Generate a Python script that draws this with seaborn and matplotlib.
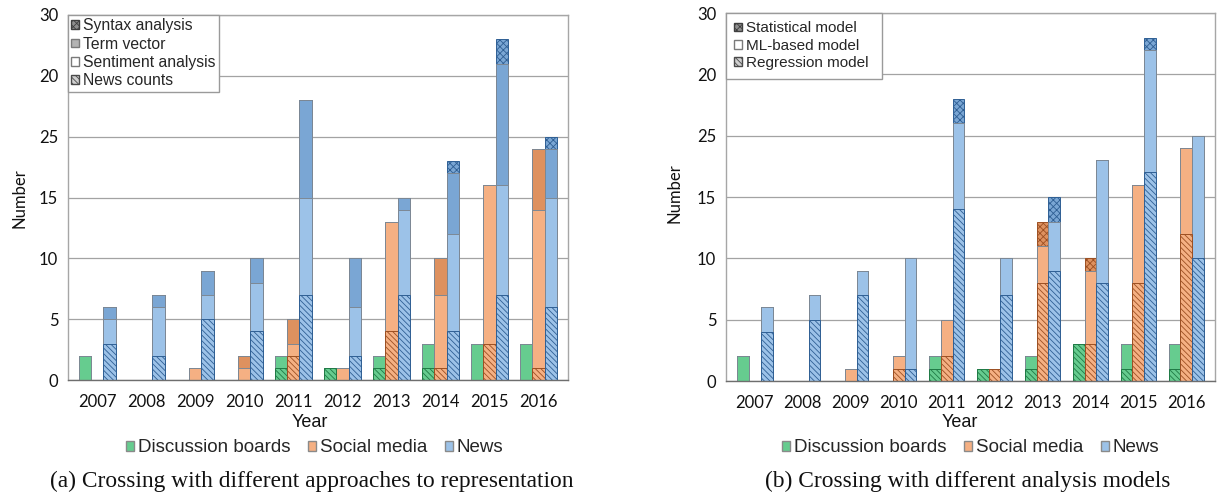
"""
Two stacked bar panels: sources per year, crossed with
(a) representation approaches and (b) analysis models.
"""

import numpy as np
import pandas as pd
import seaborn as sns
import matplotlib.pyplot as plt
from matplotlib.patches import Patch

years = ["2007", "2008", "2009", "2010", "2011", "2012", "2013", "2014", "2015", "2016"]
sources = ["Discussion boards", "Social media", "News"]
ytick_labels = ["0", "5", "10", "15", "25", "20", "30"]

# (a) approaches to representation, bottom of stack first
a_news_counts = {
    "Discussion boards": [0, 0, 0, 0, 1, 1, 1, 1, 0, 0],
    "Social media":      [0, 0, 0, 0, 2, 0, 4, 1, 3, 1],
    "News":              [3, 2, 5, 4, 7, 2, 7, 4, 7, 6],
}
a_sentiment = {
    "Discussion boards": [2, 0, 0, 0, 1, 0, 1, 2, 3, 3],
    "Social media":      [0, 0, 1, 1, 1, 1, 9, 6, 13, 13],
    "News":              [2, 4, 2, 4, 8, 4, 7, 8, 9, 9],
}
a_term_vector = {
    "Discussion boards": [0, 0, 0, 0, 0, 0, 0, 0, 0, 0],
    "Social media":      [0, 0, 0, 1, 2, 0, 0, 3, 0, 5],
    "News":              [1, 1, 2, 2, 8, 4, 1, 5, 10, 4],
}
a_syntax = {
    "Discussion boards": [0, 0, 0, 0, 0, 0, 0, 0, 0, 0],
    "Social media":      [0, 0, 0, 0, 0, 0, 0, 0, 0, 0],
    "News":              [0, 0, 0, 0, 0, 0, 0, 1, 2, 1],
}

# (b) analysis models, bottom of stack first
b_regression = {
    "Discussion boards": [0, 0, 0, 0, 1, 1, 1, 3, 1, 1],
    "Social media":      [0, 0, 0, 1, 2, 1, 8, 3, 8, 12],
    "News":              [4, 5, 7, 1, 14, 7, 9, 8, 17, 10],
}
b_ml_based = {
    "Discussion boards": [2, 0, 0, 0, 1, 0, 1, 0, 2, 2],
    "Social media":      [0, 0, 1, 1, 3, 0, 3, 6, 8, 7],
    "News":              [2, 2, 2, 9, 7, 3, 4, 10, 10, 10],
}
b_statistical = {
    "Discussion boards": [0, 0, 0, 0, 0, 0, 0, 0, 0, 0],
    "Social media":      [0, 0, 0, 0, 0, 0, 2, 1, 0, 0],
    "News":              [0, 0, 0, 0, 2, 0, 2, 0, 1, 0],
}

fill = {"Discussion boards": "#66CC8F", "Social media": "#F5B083", "News": "#9CC2E8"}
shade = {"Discussion boards": "#4DB877", "Social media": "#DE915F", "News": "#7AA6D4"}
ink = {"Discussion boards": "#1F7A45", "Social media": "#9C4F22", "News": "#2F5F94"}
EDGE = "#7d8894"
LINES = "\\\\\\\\\\\\"
DOTS = "xxxxx"

sns.set_theme(style="white")
plt.rcParams["font.family"] = ["Liberation Sans", "DejaVu Sans"]
plt.rcParams["hatch.linewidth"] = 0.6


def draw_panel(ax, layers):
    # layers: (values, style) bottom -> top; style is plain / shade / lines / dots
    cum = {s: np.zeros(len(years)) for s in sources}
    tops = []
    for vals, style in layers:
        for s in sources:
            cum[s] = cum[s] + np.array(vals[s], dtype=float)
        tops.append(({s: cum[s].copy() for s in sources}, style))

    # seaborn draws each cumulative layer; top layer first, lower ones cover it
    for top, style in reversed(tops):
        df = pd.DataFrame(
            [(y, s, top[s][i]) for s in sources for i, y in enumerate(years)],
            columns=["Year", "Source", "Top"],
        )
        n0 = len(ax.containers)
        sns.barplot(data=df, x="Year", y="Top", hue="Source", order=years,
                    hue_order=sources, palette=fill, width=0.74, saturation=1,
                    errorbar=None, legend=False, ax=ax)
        for cont, s in zip(ax.containers[n0:], sources):
            for bar in cont:
                if style == "shade":
                    bar.set_facecolor(shade[s])
                    bar.set_edgecolor(EDGE)
                elif style == "dots":
                    bar.set_facecolor(shade[s])
                    bar.set_edgecolor(ink[s])
                    bar.set_hatch(DOTS)
                elif style == "lines":
                    bar.set_facecolor(fill[s])
                    bar.set_edgecolor(ink[s])
                    bar.set_hatch(LINES)
                else:
                    bar.set_facecolor(fill[s])
                    bar.set_edgecolor(EDGE)
                bar.set_linewidth(0.7)

    ax.set_xlim(-0.6, 9.6)
    ax.set_ylim(0, 30)
    ax.set_yticks(range(0, 31, 5))
    ax.set_yticklabels(ytick_labels)
    ax.set_xlabel("")
    ax.set_ylabel("")
    ax.set_axisbelow(True)
    ax.yaxis.grid(True, color="#a3a3a3", linewidth=0.9)
    ax.xaxis.grid(False)
    for side in ["left", "top", "right"]:
        ax.spines[side].set_color("#a6a6a6")
        ax.spines[side].set_linewidth(1.0)
    ax.spines["bottom"].set_color("#6e6e6e")
    ax.spines["bottom"].set_linewidth(1.0)
    ax.tick_params(axis="x", length=0, pad=10)
    ax.tick_params(axis="y", length=0, pad=7)
    for lab in ax.get_xticklabels() + ax.get_yticklabels():
        lab.set_fontfamily(["Lato", "DejaVu Sans"])
        lab.set_fontsize(12)
        lab.set_color("#111111")


fig = plt.figure(figsize=(12.18, 4.95), dpi=100)
ax_a = fig.add_axes([0.0558, 0.2323, 0.4105, 0.7374])
ax_b = fig.add_axes([0.5961, 0.2303, 0.4015, 0.7434])

draw_panel(ax_a, [(a_news_counts, "lines"), (a_sentiment, "plain"),
                  (a_term_vector, "shade"), (a_syntax, "dots")])
draw_panel(ax_b, [(b_regression, "lines"), (b_ml_based, "plain"),
                  (b_statistical, "dots")])

# approach / model legends inside the plots
a_handles = [
    Patch(facecolor="#8f8f8f", edgecolor="#3f3f3f", hatch=DOTS, label="Syntax analysis"),
    Patch(facecolor="#b3b3b3", edgecolor="#7a7a7a", label="Term vector"),
    Patch(facecolor="white", edgecolor="#7a7a7a", label="Sentiment analysis"),
    Patch(facecolor="#d0d0d0", edgecolor="#4a4a4a", hatch=LINES, label="News counts"),
]
b_handles = [
    Patch(facecolor="#8f8f8f", edgecolor="#3f3f3f", hatch=DOTS, label="Statistical model    "),
    Patch(facecolor="white", edgecolor="#7a7a7a", label="ML-based model"),
    Patch(facecolor="#d0d0d0", edgecolor="#4a4a4a", hatch=LINES, label="Regression model"),
]
for ax, handles, bpad, fs in [(ax_a, a_handles, 0.2, 11.3), (ax_b, b_handles, 0.55, 11)]:
    leg = ax.legend(handles=handles, loc="upper left", borderaxespad=0,
                    fontsize=fs, handlelength=0.5, handleheight=0.5,
                    handletextpad=0.25, labelspacing=0.22, borderpad=bpad,
                    fancybox=False, framealpha=1, edgecolor="#9a9a9a")
    leg.get_frame().set_linewidth(1.0)

# source legends, "Year" labels, y labels and captions
src_handles = [Patch(facecolor=fill[s], edgecolor="#8a8a8a", label=s) for s in sources]
for cx, ycx, cap, nx, ny in [
    (0.2586, 0.2545, "(a) Crossing with different approaches to representation", 0.0156, 0.600),
    (0.7972, 0.7882, "(b) Crossing with different analysis models", 0.5534, 0.610),
]:
    fig.legend(handles=src_handles, loc="center", bbox_to_anchor=(cx, 0.095),
               ncol=3, frameon=False, fontsize=13.5, handlelength=0.42,
               handleheight=0.42, handletextpad=0.2, columnspacing=0.95)
    fig.text(ycx, 0.1455, "Year", ha="center", va="center", fontsize=13, color="#111111")
    fig.text(nx, ny, "Number", rotation=90, ha="center", va="center",
             fontsize=12, family=["Lato", "DejaVu Sans"], color="#111111")
    fig.text(cx - 0.003, 0.027, cap, ha="center", va="center", fontsize=16.8,
             family=["Liberation Serif", "DejaVu Serif"], color="#111111")

fig.savefig("out.png", dpi=100)
